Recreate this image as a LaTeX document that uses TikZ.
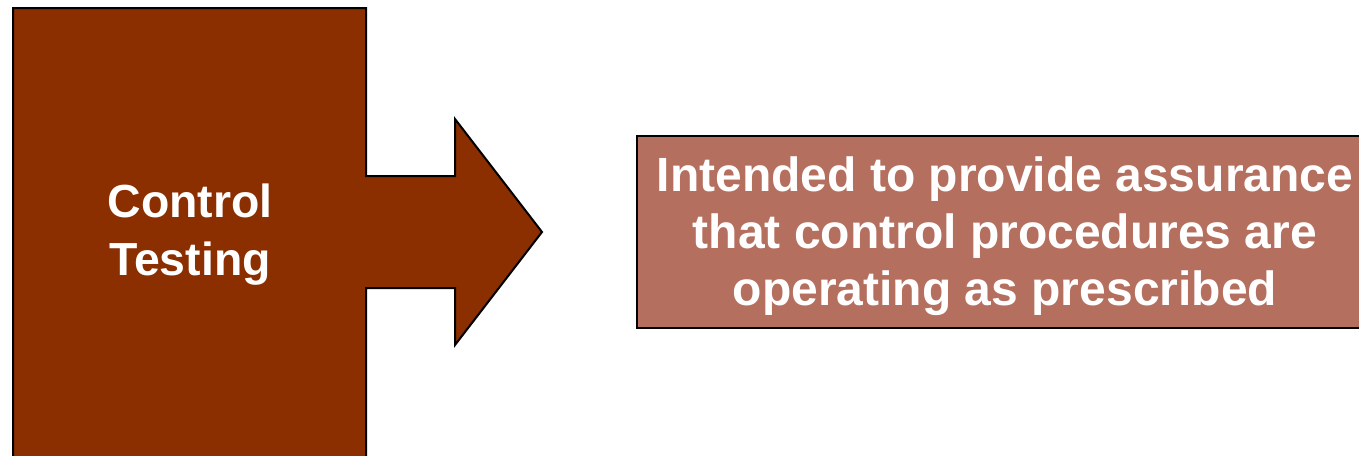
\documentclass[tikz,border=0pt]{standalone}
\usepackage{fontspec}
\setmainfont{Liberation Sans}
\usetikzlibrary{positioning}
\definecolor{ctrl}{HTML}{8B2E00}
\definecolor{note}{HTML}{B56F5E}
\tikzset{frame/.style={draw=black,line width=1pt},lab/.style={text=white,align=center,inner sep=0pt,font=\bfseries\fontsize{23.2}{29}\selectfont},notebox/.style={frame,fill=note,inner sep=0pt,minimum width=368pt,minimum height=96pt}}

\begin{document}
\begin{tikzpicture}[x=0.5pt,y=-0.5pt]
\useasboundingbox (0,0) rectangle (1359,455);
\clip (0,0) rectangle (1359,455);
% block with the arrow going out of its right side
\draw[frame,fill=ctrl] (13,470)--(13,8)--(366,8)--(366,176)--(455,176)--(455,119)--(542,232)--(455,345)--(455,288)--(366,288)--(366,470)--cycle;
\node[lab] (ctrl) at (190,235) {Control\\Testing};
\node[notebox] (note) at (1005,232) {};
\node[lab,font=\bfseries\fontsize{24}{28.5}\selectfont] (notetext) at (1005,236) {Intended to provide assurance\\that control procedures are\\operating as prescribed};
\end{tikzpicture}
\end{document}
